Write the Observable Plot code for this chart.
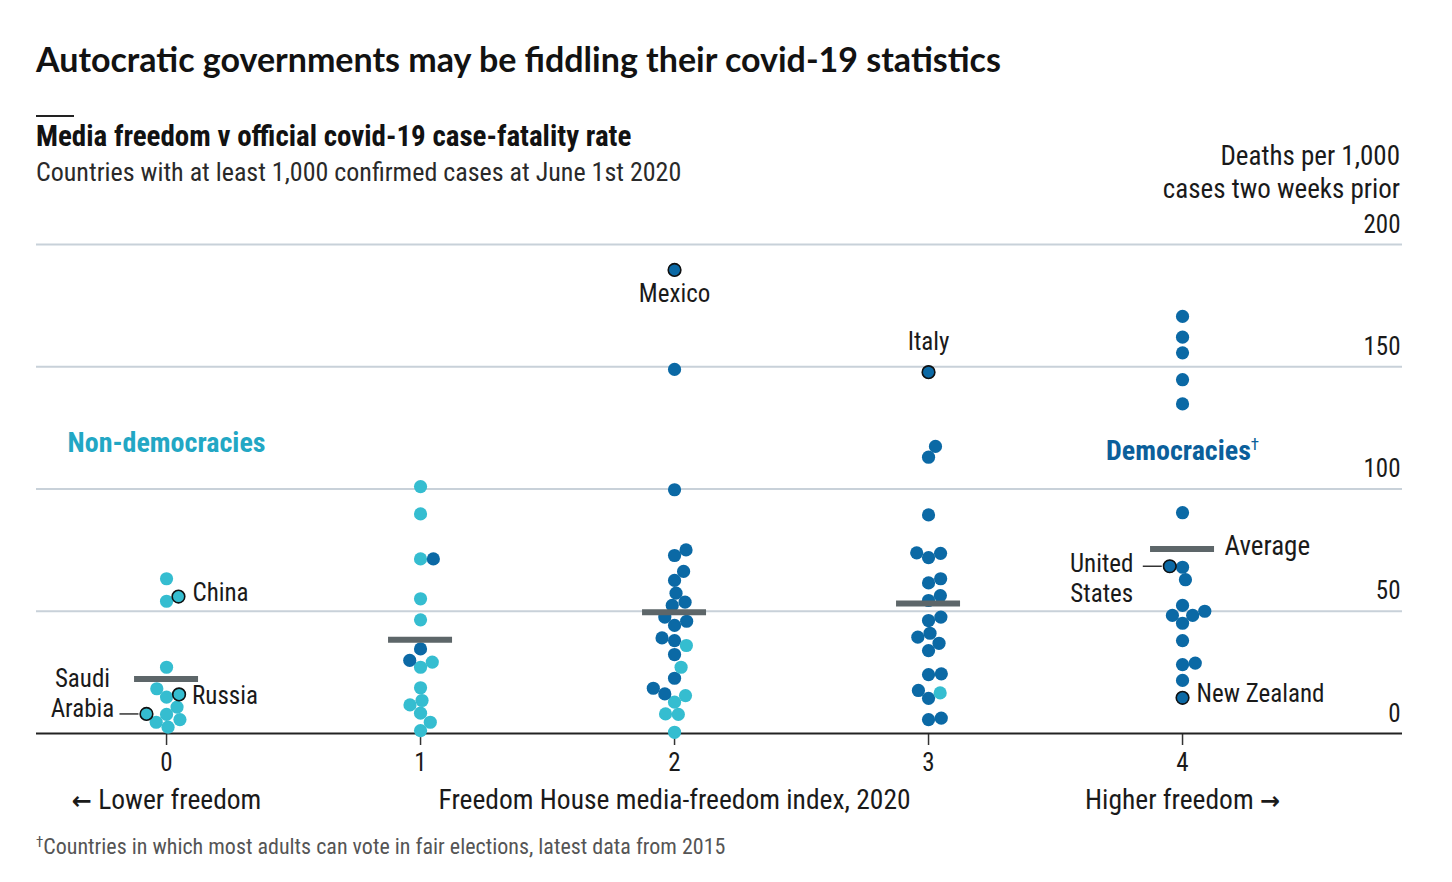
<!DOCTYPE html>
<html>
<head>
<meta charset="utf-8">
<script src="https://cdn.jsdelivr.net/npm/d3@7"></script>
<script src="https://cdn.jsdelivr.net/npm/@observablehq/plot@0.6"></script>
<style>
  html, body { margin: 0; padding: 0; background: #fff; }
  #wrap { position: relative; width: 1452px; height: 882px; overflow: hidden; color: #1a1a1a; font-family: var(--cond); }
  .t { position: absolute; white-space: nowrap; }
  #chart { position: absolute; left: 0; top: 200px; }
  #chart svg { overflow: visible; }
</style>
</head>
<body>
<div id="wrap">
  <div class="t" id="title" style="left:36px;top:39px;font-size:34px;line-height:40px;font-weight:700;font-family:var(--bold);color:#121212">Autocratic governments may be fiddling their covid-19 statistics</div>
  <div style="position:absolute;left:36px;top:115px;width:38px;height:2px;background:#222"></div>
  <div class="t" style="left:36px;top:119px;font-size:29px;line-height:34px;font-weight:700;color:#121212">Media freedom v official covid-19 case-fatality rate</div>
  <div class="t" style="left:36px;top:157px;font-size:26px;line-height:30px;color:#2a2a2a">Countries with at least 1,000 confirmed cases at June 1st 2020</div>
  <div class="t" style="right:52px;top:141px;font-size:27px;line-height:30px;text-align:right;color:#1a1a1a">Deaths per 1,000</div>
  <div class="t" style="right:52px;top:174px;font-size:27px;line-height:30px;text-align:right;color:#1a1a1a">cases two weeks prior</div>
  <div id="chart"></div>
  <div class="t" style="left:36px;top:829px;font-size:22px;line-height:26px;color:#555"><span style="font-size:15px;vertical-align:7px">†</span>Countries in which most adults can vote in fair elections, latest data from 2015</div>
</div>
<script>
// ---------- data ----------
const freedomScores = [0, 1, 2, 3, 4];
const yTicks = [0, 50, 100, 150, 200];

// deaths per 1,000 cases, one list per freedom score
const deathsByScore = [
  [63.3, 54.1, 27.1, 14.9, 7.8, 2.6, 56.0, 16.0, 18.3, 10.8, 4.6, 8.0, 5.7],
  [101.0, 89.8, 71.4, 55.1, 46.5, 34.6, 27.1, 18.7, 8.3, 1.2, 71.4, 29.2, 29.9, 13.5, 11.7, 4.6],
  [189.6, 148.9, 99.7, 72.8, 62.6, 57.4, 52.4, 44.2, 38.0, 32.3, 22.6, 12.8, 7.8, 0.5,
   75.1, 66.3, 53.7, 45.9, 36.0, 27.1, 15.5, 8.0, 39.1, 47.6, 16.2, 18.5],
  [147.8, 113.0, 89.4, 71.9, 61.6, 54.4, 46.2, 33.9, 24.1, 14.4, 5.7,
   117.4, 73.7, 63.3, 56.4, 47.6, 36.9, 41.0, 24.4, 16.6, 6.3, 73.9, 39.4, 17.6],
  [170.6, 162.1, 155.7, 144.7, 134.8, 90.3, 68.0, 62.9, 52.4, 45.1, 38.0, 28.2, 21.7, 14.6,
   68.4, 48.3, 48.3, 50.0, 28.8]
];
// D = democracy, N = non-democracy
const regimeByScore = [
  ["N","N","N","N","N","N","N","N","N","N","N","N","N"],
  ["N","N","N","N","N","D","N","N","N","N","D","N","D","N","N","N"],
  ["D","D","D","D","D","D","D","D","D","D","D","N","N","N",
   "D","D","D","D","N","N","N","N","D","D","D","D"],
  ["D","D","D","D","D","D","D","D","D","D","D",
   "D","D","D","D","D","D","D","D","N","D","D","D","D"],
  ["D","D","D","D","D","D","D","D","D","D","D","D","D","D",
   "D","D","D","D","D"]
];
const labelledNames  = ["China", "Russia", "Saudi Arabia", "Mexico", "Italy", "United States", "New Zealand"];
const labelledScores = [0, 0, 0, 2, 3, 4, 4];
const labelledDeaths = [56.0, 16.0, 8.0, 189.6, 147.8, 68.4, 14.6];

const groupLabels = ["Non-democracies", "Democracies†"];
const groupLabelScore = [0, 4];
const groupLabelDeaths = [119, 115.7];

const axisNotes = ["← Lower freedom", "Freedom House media-freedom index, 2020", "Higher freedom →"];
const axisNoteScores = [0, 2, 4];

// ---------- fonts ----------
function fontAvailable(name) {
  const ctx = document.createElement("canvas").getContext("2d");
  const s = "abcdefghijklmnopqrstuvwxyz ABCDEFGHIJ 0123456789";
  return ["monospace", "serif"].some(base => {
    ctx.font = `40px ${base}`;
    const w0 = ctx.measureText(s).width;
    ctx.font = `40px "${name}", ${base}`;
    return ctx.measureText(s).width !== w0;
  });
}
const COND = ["Liberation Sans Narrow", "Roboto Condensed", "DejaVu Sans Condensed", "Roboto"].find(fontAvailable) || "sans-serif";
const BOLD = ["Lato", "Roboto"].find(fontAvailable) || "sans-serif";
document.documentElement.style.setProperty("--cond", `"${COND}", sans-serif`);
document.documentElement.style.setProperty("--bold", `"${BOLD}", sans-serif`);

// ---------- layout ----------
const W = 1452, H = 620, mL = 36, mR = 50, mT = 44, mB = 87;
const xDomain = [-0.512, 4.866];
const CYAN = "#35bdd0", DARK = "#0b69a5";
const xs = Plot.scale({x: {domain: xDomain, range: [mL, W - mR]}});
const ys = Plot.scale({y: {domain: [0, 200], range: [H - mB, mT]}});

// label side for highlighted countries (labelled dots lean toward their label)
const labelSide = {"China": 1, "Russia": 1, "New Zealand": 1, "Saudi Arabia": -1, "United States": -1};
const nameOf = (score, v) => {
  const k = labelledNames.findIndex((n, i) => labelledScores[i] === score && Math.abs(labelledDeaths[i] - v) < 0.05);
  return k >= 0 ? labelledNames[k] : null;
};

// beeswarm: greedy placement at the nearest free horizontal offset
const DIAM = 12.8;
const points = [];
freedomScores.forEach((score, i) => {
  const placed = [];
  deathsByScore[i].forEach((v, j) => {
    const name = nameOf(score, v);
    const side = (name && labelSide[name]) || 1;
    const py = ys.apply(v);
    const near = placed.filter(p => Math.abs(p.py - py) < DIAM);
    const cands = [0];
    near.forEach(p => {
      const h = Math.sqrt(DIAM * DIAM - (p.py - py) ** 2);
      cands.push(p.px + h, p.px - h);
    });
    cands.sort((a, b) => (Math.abs(a) - Math.abs(b)) || side * (b - a));
    const px = cands.find(c => near.every(p => (c - p.px) ** 2 + (p.py - py) ** 2 >= DIAM * DIAM - 1e-6));
    placed.push({px, py});
    points.push({score, deaths: v, regime: regimeByScore[i][j], x: xs.invert(xs.apply(score) + px), name});
  });
});
const named = points.filter(d => d.name);
const pick = (...names) => named.filter(d => names.includes(d.name));

const averages = freedomScores.map((score, i) => ({score, mean: d3.mean(deathsByScore[i])}));
const groupRows = groupLabels.map((t, i) => ({text: t, score: groupLabelScore[i], deaths: groupLabelDeaths[i], regime: i === 0 ? "N" : "D"}));
const noteRows = axisNotes.map((t, i) => ({text: t, score: axisNoteScores[i]}));
const pxShift = (x, dpx) => xs.invert(xs.apply(x) + dpx);

const chart = Plot.plot({
  width: W, height: H,
  marginLeft: mL, marginRight: mR, marginTop: mT, marginBottom: mB,
  x: {domain: xDomain},
  y: {domain: [0, 200], axis: null},
  color: {domain: ["N", "D"], range: [CYAN, DARK]},
  style: {fontFamily: `"${COND}", sans-serif`, fontSize: "25px", color: "#1a1a1a", background: "transparent"},
  marks: [
    Plot.ruleY(yTicks.filter(d => d > 0), {stroke: "#c8d1d9", strokeWidth: 2}),
    Plot.text(yTicks, {y: d => d, text: d => String(d), frameAnchor: "right", textAnchor: "end", dx: -2, dy: -20, fontSize: 25, fill: "#1a1a1a"}),
    Plot.axisX({ticks: freedomScores, tickSize: 12, tickPadding: 8, tickFormat: d => String(d), fontSize: 25, label: null, stroke: "#333", strokeWidth: 1.5, fill: "#1a1a1a"}),
    Plot.ruleY([0], {stroke: "#222", strokeWidth: 2}),
    Plot.dot(points, {x: "x", y: "deaths", r: 6.6, fill: "regime", stroke: "none"}),
    Plot.dot(named, {x: "x", y: "deaths", r: 6.3, fill: "regime", stroke: "#111", strokeWidth: 1.6}),
    Plot.ruleY(averages, {y: "mean", x1: d => pxShift(d.score, -32), x2: d => pxShift(d.score, 32), stroke: "#5d6669", strokeWidth: 6}),
    Plot.text(averages.filter(d => d.score === 4), {x: "score", y: "mean", text: () => "Average", textAnchor: "start", dx: 42, dy: -3, fontSize: 27}),
    // country labels
    Plot.text(pick("China", "New Zealand"), {x: "x", y: "deaths", text: "name", textAnchor: "start", dx: 14, dy: -4, fontSize: 25}),
    Plot.text(pick("Russia"), {x: "x", y: "deaths", text: "name", textAnchor: "start", dx: 13, dy: 2, fontSize: 25}),
    Plot.text(pick("Mexico"), {x: "x", y: "deaths", text: "name", dy: 24, fontSize: 25}),
    Plot.text(pick("Italy"), {x: "x", y: "deaths", text: "name", dy: -30, fontSize: 25}),
    Plot.link(pick("Saudi Arabia", "United States"), {x1: d => pxShift(d.x, -8), x2: d => pxShift(d.x, -27), y1: "deaths", y2: "deaths", stroke: "#333", strokeWidth: 1.5}),
    Plot.text(pick("Saudi Arabia"), {x: "x", y: "deaths", text: () => "Saudi\nArabia", dx: -64, dy: -22, lineHeight: 1.2, fontSize: 25}),
    Plot.text(pick("United States"), {x: "x", y: "deaths", text: () => "United\nStates", dx: -68, dy: 11, lineHeight: 1.2, fontSize: 25}),
    // group labels
    Plot.text(groupRows, {x: "score", y: "deaths", text: "text", fill: d => d.regime === "N" ? "#22a7c4" : "#0b5f9b", fontWeight: 700, fontSize: 28, className: "grp"}),
    // axis notes
    Plot.text(noteRows, {x: "score", text: "text", frameAnchor: "bottom", dy: 75, fontSize: 27.5, fill: "#1a1a1a", className: "notes"})
  ]
});
document.getElementById("chart").appendChild(chart);

// raise the dagger in "Democracies†"
d3.select(chart).selectAll(".grp text").each(function () {
  const t = d3.select(this);
  const s = t.text();
  if (s.endsWith("†")) {
    t.text(s.slice(0, -1));
    t.append("tspan").attr("baseline-shift", "super").attr("font-size", "17px").attr("font-weight", 400).text("†");
  }
});
// render arrows with a font whose arrows sit at mid-height
d3.select(chart).selectAll(".notes text").each(function () {
  const t = d3.select(this);
  const s = t.text();
  const parts = s.split(/([←→])/).filter(p => p.length);
  if (parts.length > 1) {
    t.text(null);
    parts.forEach(p => {
      const sp = t.append("tspan").text(p);
      if (p === "←" || p === "→") sp.attr("font-family", "DejaVu Sans").attr("font-weight", 700).attr("font-size", "24px");
    });
  }
});
</script>
</body>
</html>
